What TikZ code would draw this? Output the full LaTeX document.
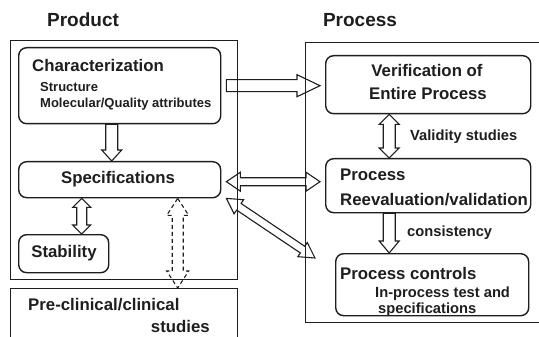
\documentclass[tikz,border=0pt]{standalone}
\usepackage{fontspec}
\setmainfont{Liberation Sans}
\usetikzlibrary{calc}
\definecolor{ink}{HTML}{1E1E1E}

% hollow block arrow: [options]{from}{to}{shaft half width}{head half width}{head length}
\newcommand{\onewayarrow}[6][]{%
  \draw[arrowline,#1]
    ($(#2)!#4!90:(#3)$) --
    ($(#3)!#6!(#2)!#4!90:(#3)$) --
    ($(#3)!#6!(#2)!#5!90:(#3)$) --
    (#3) --
    ($(#3)!#6!(#2)!#5!-90:(#3)$) --
    ($(#3)!#6!(#2)!#4!-90:(#3)$) --
    ($(#2)!#4!-90:(#3)$) -- cycle;}
% hollow block arrow with a head at both ends
\newcommand{\twowayarrow}[6][]{%
  \draw[arrowline,#1]
    (#2) --
    ($(#2)!#6!(#3)!#5!90:(#3)$) --
    ($(#2)!#6!(#3)!#4!90:(#3)$) --
    ($(#3)!#6!(#2)!#4!90:(#3)$) --
    ($(#3)!#6!(#2)!#5!90:(#3)$) --
    (#3) --
    ($(#3)!#6!(#2)!#5!-90:(#3)$) --
    ($(#3)!#6!(#2)!#4!-90:(#3)$) --
    ($(#2)!#6!(#3)!#4!-90:(#3)$) --
    ($(#2)!#6!(#3)!#5!-90:(#3)$) -- cycle;}

\tikzset{
  frame/.style={draw=ink, line width=1.2pt, inner sep=0, anchor=north west},
  card/.style={draw=ink, line width=1.4pt, rounded corners=8pt, inner sep=0, anchor=north west},
  arrowline/.style={draw=ink, line width=1.1pt, line join=miter},
  title/.style={font=\fontsize{19}{22}\selectfont\bfseries, text=ink, inner sep=0},
  main/.style={font=\fontsize{16.8}{20}\selectfont\bfseries, text=ink, inner sep=0},
  sub/.style={font=\fontsize{13}{15}\selectfont\bfseries, text=ink, inner sep=0},
  note/.style={font=\fontsize{14.7}{17}\selectfont\bfseries, text=ink, inner sep=0},
}

\begin{document}
\begin{tikzpicture}[x=1pt, y=-1pt]
\useasboundingbox[fill=white] (0,0) rectangle (539,337);

% headings
\node[title] (hprod) at (83,20) {Product};
\node[title] (hproc) at (360,20) {Process};

% product side
\node[frame, minimum width=227pt, minimum height=239pt] (prodframe) at (10,40) {};
\node[card, minimum width=202pt, minimum height=76pt] (char) at (18,47) {};
\node[main, anchor=base west] (tchar) at (32,72) {Characterization};
\node[sub, anchor=base west] (tstruct) at (40,92) {Structure};
\node[sub, anchor=base west] (tmol) at (40,107) {Molecular/Quality attributes};

\node[card, minimum width=202pt, minimum height=36pt] (spec) at (18,161) {};
\node[main] (tspec) at (118,179) {Specifications};

\node[card, minimum width=90pt, minimum height=38pt] (stab) at (18,234) {};
\node[main] (tstab) at (64,253) {Stability};

\node[frame, minimum width=227pt, minimum height=70pt] (preclin) at (10,288) {};
\node[main, anchor=base west] (tpre1) at (28,310) {Pre-clinical/clinical};
\node[main, anchor=base east] (tpre2) at (210,332) {studies};

% process side
\node[frame, minimum width=250pt, minimum height=280pt] (procframe) at (305,42) {};
\node[card, minimum width=205pt, minimum height=58pt] (verif) at (325,55) {};
\node[main, anchor=base] (tver1) at (427,77) {Verification of};
\node[main, anchor=base] (tver2) at (428,100) {Entire Process};

\node[card, minimum width=205pt, minimum height=54pt] (reeval) at (325,158) {};
\node[main, anchor=base west] (tre1) at (340,180) {Process};
\node[main, anchor=base west] (tre2) at (340,205) {Reevaluation/validation};

\node[card, minimum width=193pt, minimum height=62pt] (ctrl) at (335,253) {};
\node[main, anchor=base west] (tct1) at (340,279) {Process controls};
\node[note, anchor=base west] (tct2) at (375,297) {In-process test and};
\node[note, anchor=base west] (tct3) at (378,313) {specifications};

\node[note, anchor=base west] (lvalid) at (410,141) {Validity studies};
\node[note, anchor=base west] (lcons) at (407,236) {consistency};

% arrow end points
\coordinate (a1s) at ([xshift=5pt]char.east);
\coordinate (a1e) at ([xshift=-5pt]char.east -| verif.west);
\coordinate (a2s) at ([xshift=5pt,yshift=-2pt]spec.east);
\coordinate (a2e) at ([xshift=-5pt]a2s -| reeval.west);
\coordinate (a3s) at ([xshift=5pt]spec.south east);
\coordinate (a3e) at ([xshift=-20pt,yshift=-5pt]ctrl.north west);
\coordinate (a4s) at ([xshift=-8pt]char.south);
\coordinate (a4e) at ([xshift=-8pt]spec.north);
\coordinate (a5s) at ([xshift=-38pt]spec.south);
\coordinate (a5e) at (a5s |- stab.north);
\coordinate (a6s) at ([xshift=58pt]spec.south);
\coordinate (a6e) at (a6s |- preclin.north);
\coordinate (a7s) at ([xshift=-39pt]verif.south);
\coordinate (a7e) at (a7s |- reeval.north);
\coordinate (a8s) at ([xshift=-39pt]reeval.south);
\coordinate (a8e) at (a8s |- ctrl.north);

% connectors
\onewayarrow{a1s}{a1e}{6pt}{11pt}{23pt}
\twowayarrow{a2s}{a2e}{4pt}{9.5pt}{14pt}
\twowayarrow{a3s}{a3e}{4pt}{8.5pt}{15pt}
\onewayarrow{a4s}{a4e}{6pt}{10pt}{11pt}
\twowayarrow{a5s}{a5e}{5pt}{9pt}{9pt}
\twowayarrow[dashed, dash pattern=on 4pt off 3pt]{a6s}{a6e}{5.5pt}{11pt}{17pt}
\twowayarrow{a7s}{a7e}{6pt}{10pt}{10pt}
\onewayarrow{a8s}{a8e}{6pt}{10pt}{12pt}
\end{tikzpicture}
\end{document}
